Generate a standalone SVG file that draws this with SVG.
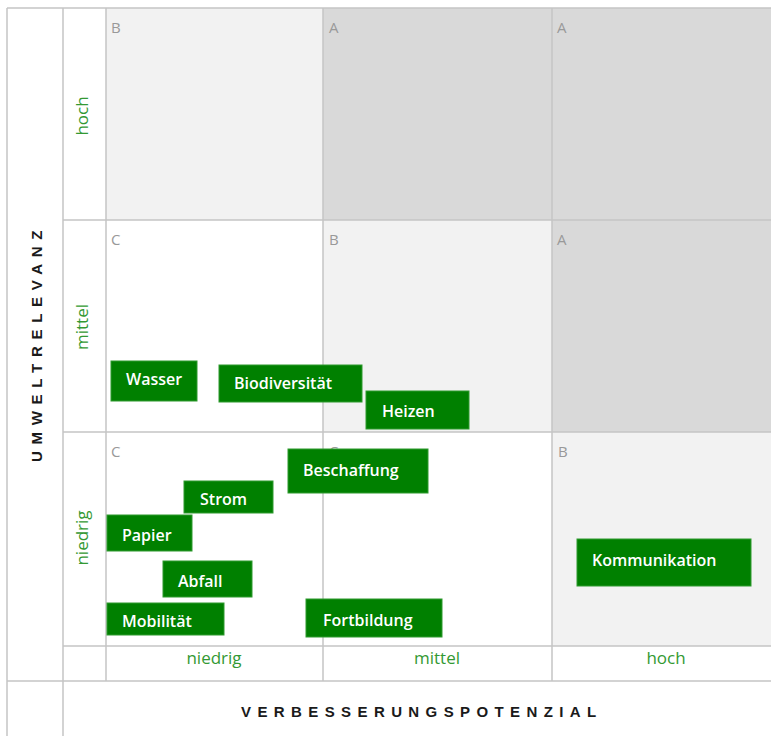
<svg xmlns="http://www.w3.org/2000/svg" width="771" height="736" viewBox="0 0 771 736">
<style>
.grid{stroke:#c4c4c4;stroke-width:1.5;fill:none}
.l1{fill:#f2f2f2}
.l2{fill:#d9d9d9}
.cell{font-family:"Open Sans","DejaVu Sans",sans-serif;font-size:15px;fill:#999}
.lvl{font-family:"Open Sans","DejaVu Sans",sans-serif;font-size:17px;fill:#339933}
.axis{font-family:"Liberation Sans",Arial,sans-serif;font-size:15px;font-weight:bold;fill:#1a1a1a}
.box{fill:#008000;stroke:#2f9a2f;stroke-width:1}
.bt{font-family:"Open Sans","DejaVu Sans",sans-serif;font-size:16px;font-weight:600;fill:#fff}
</style>
<rect x="0" y="0" width="771" height="736" fill="#fff"/>
<g id="cells">
<rect class="l1" x="106" y="8" width="217" height="212"/>
<rect class="l2" x="323" y="8" width="229" height="212"/>
<rect class="l2" x="552" y="8" width="219" height="212"/>
<rect class="l1" x="323" y="220" width="229" height="212"/>
<rect class="l2" x="552" y="220" width="219" height="212"/>
<rect class="l1" x="552" y="432" width="219" height="214"/>
</g>
<g id="gridlines">
<line class="grid" x1="7" y1="8" x2="771" y2="8"/>
<line class="grid" x1="63" y1="220" x2="771" y2="220"/>
<line class="grid" x1="63" y1="432" x2="771" y2="432"/>
<line class="grid" x1="63" y1="646" x2="771" y2="646"/>
<line class="grid" x1="7" y1="681" x2="771" y2="681"/>
<line class="grid" x1="7" y1="8" x2="7" y2="736"/>
<line class="grid" x1="63" y1="8" x2="63" y2="736"/>
<line class="grid" x1="106" y1="8" x2="106" y2="681"/>
<line class="grid" x1="323" y1="8" x2="323" y2="681"/>
<line class="grid" x1="552" y1="8" x2="552" y2="681"/>
</g>
<g id="cell-labels">
<text class="cell" x="111" y="33">B</text>
<text class="cell" x="329" y="33">A</text>
<text class="cell" x="557" y="33">A</text>
<text class="cell" x="111" y="245">C</text>
<text class="cell" x="329" y="245">B</text>
<text class="cell" x="557" y="245">A</text>
<text class="cell" x="111" y="457">C</text>
<text class="cell" x="329" y="457">C</text>
<text class="cell" x="558" y="457">B</text>
</g>
<g id="row-labels">
<text class="lvl" text-anchor="middle" transform="translate(88,116) rotate(-90)">hoch</text>
<text class="lvl" text-anchor="middle" transform="translate(88,327) rotate(-90)">mittel</text>
<text class="lvl" text-anchor="middle" transform="translate(88,538) rotate(-90)">niedrig</text>
</g>
<g id="col-labels">
<text class="lvl" text-anchor="middle" x="214" y="664">niedrig</text>
<text class="lvl" text-anchor="middle" x="437" y="664">mittel</text>
<text class="lvl" text-anchor="middle" x="666" y="664">hoch</text>
</g>
<g id="axis-titles">
<text class="axis" letter-spacing="6.7" transform="translate(42,462) rotate(-90)">UMWELTRELEVANZ</text>
<text class="axis" letter-spacing="6.4" x="241" y="717">VERBESSERUNGSPOTENZIAL</text>
</g>
<g id="node-wasser"><rect class="box" x="111" y="361" width="86" height="40"/><text class="bt" x="126" y="385">Wasser</text></g>
<g id="node-biodiversitaet"><rect class="box" x="219" y="365" width="143" height="37"/><text class="bt" x="234" y="389">Biodiversität</text></g>
<g id="node-heizen"><rect class="box" x="366" y="391" width="103" height="38"/><text class="bt" x="382" y="417">Heizen</text></g>
<g id="node-beschaffung"><rect class="box" x="288" y="449" width="140" height="44"/><text class="bt" x="303" y="476">Beschaffung</text></g>
<g id="node-strom"><rect class="box" x="184" y="481" width="89" height="32"/><text class="bt" x="200" y="505">Strom</text></g>
<g id="node-papier"><rect class="box" x="107" y="515" width="85" height="36"/><text class="bt" x="122" y="541">Papier</text></g>
<g id="node-abfall"><rect class="box" x="163" y="561" width="89" height="36"/><text class="bt" x="178" y="587">Abfall</text></g>
<g id="node-mobilitaet"><rect class="box" x="107" y="603" width="117" height="32"/><text class="bt" x="122" y="627">Mobilität</text></g>
<g id="node-fortbildung"><rect class="box" x="306" y="599" width="136" height="38"/><text class="bt" x="323" y="626">Fortbildung</text></g>
<g id="node-kommunikation"><rect class="box" x="577" y="539" width="174" height="47"/><text class="bt" x="592" y="566">Kommunikation</text></g>
<g id="connectors"/>
</svg>
